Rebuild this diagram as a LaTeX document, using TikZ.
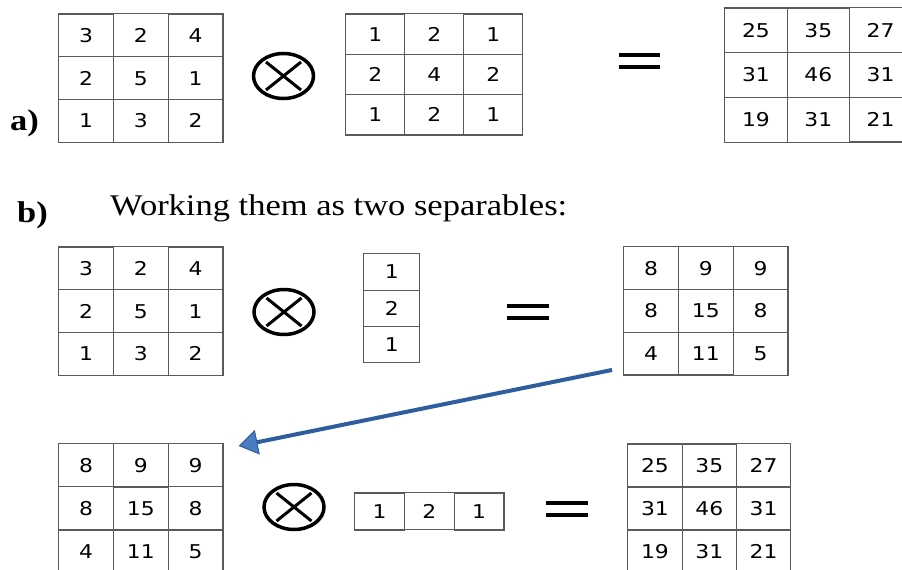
\documentclass[tikz,border=0pt]{standalone}
\usepackage{fontspec}
\setmainfont{Liberation Serif}[FakeStretch=1.15]
\newfontfamily\cellfont{DejaVu Sans}[FakeStretch=1.15]
\usetikzlibrary{arrows.meta,matrix,shapes.geometric,calc}
\definecolor{gridline}{HTML}{5A5A5A}
\definecolor{arrowline}{HTML}{2F5E9E}
\definecolor{arrowfill}{HTML}{4A7CC0}

\begin{document}
\begin{tikzpicture}[x=1pt,y=-1pt,
  grid/.style={matrix of nodes, anchor=north west, inner sep=0pt,
    column sep=-1.2pt, row sep=-1.2pt,
    nodes={draw=gridline, line width=1.2pt, inner sep=0pt, outer sep=0pt,
      font=\cellfont\fontsize{19}{19}\selectfont}},
  cellsize/.style 2 args={nodes={minimum width=#1, minimum height=#2}},
  otimes/.style={ellipse, draw, line width=3.5pt, minimum width=60pt, minimum height=45pt, inner sep=0pt},
  eqsign/.style={rectangle, minimum width=41pt, minimum height=12pt, inner sep=0pt},
  eqline/.style={line width=3.5pt},
  crossline/.style={line width=3pt},
  tag/.style={font=\fontsize{30}{30}\selectfont\bfseries, anchor=base west, inner sep=0pt},
  heading/.style={font=\fontsize{30}{30}\selectfont, anchor=base west, inner sep=0pt},
  flowarrow/.style={-{Triangle[length=19pt, width=25pt, fill=arrowfill, line width=1pt]}, line width=4pt, draw=arrowline}
]
\path[use as bounding box, fill=white] (0,0) rectangle (902,570);
\clip (0,0) rectangle (902,570);

% a) full 3x3 kernel
\node[tag] (taga) at (10,130) {a)};
\matrix (tA) [grid, cellsize={54.7pt}{42.7pt}] at (58,13) {
  3 & 2 & 4 \\
  2 & 5 & 1 \\
  1 & 3 & 2 \\
};
\node[otimes] (ot1) at (283.5,76) {};
\matrix (tB) [grid, cellsize={59pt}{40.3pt}] at (345,13) {
  1 & 2 & 1 \\
  2 & 4 & 2 \\
  1 & 2 & 1 \\
};
\node[eqsign] (eqa) at (639.5,61) {};
\matrix (tR) [grid, cellsize={62.3pt}{44.7pt}] at (724,7) {
  25 & 35 & 27 \\
  31 & 46 & 31 \\
  19 & 31 & 21 \\
};

% b) two separable passes
\node[tag] (tagb) at (17,222) {b)};
\node[heading] (head) at (110,215) {Working them as two separables:};
\matrix (mA) [grid, cellsize={54.7pt}{42.7pt}] at (58,246) {
  3 & 2 & 4 \\
  2 & 5 & 1 \\
  1 & 3 & 2 \\
};
\node[otimes] (ot2) at (284,312) {};
\matrix (mV) [grid, cellsize={56pt}{36.3pt}] at (363,253) {
  1 \\
  2 \\
  1 \\
};
\node[eqsign] (eqb) at (528,312) {};
\matrix (mR) [grid, cellsize={54.7pt}{42.7pt}] at (623,246) {
  8 & 9 & 9 \\
  8 & 15 & 8 \\
  4 & 11 & 5 \\
};

\matrix (bA) [grid, cellsize={54.7pt}{43pt}] at (58,443) {
  8 & 9 & 9 \\
  8 & 15 & 8 \\
  4 & 11 & 5 \\
};
\node[otimes] (ot3) at (294,507) {};
\matrix (bH) [grid, cellsize={49.7pt}{37pt}] at (354,492) {
  1 & 2 & 1 \\
};
\node[eqsign] (eqc) at (567,509) {};
\matrix (bR) [grid, cellsize={54.3pt}{43pt}] at (627,443) {
  25 & 35 & 27 \\
  31 & 46 & 31 \\
  19 & 31 & 21 \\
};

\foreach \e in {eqa,eqb,eqc}
  \draw[eqline] (\e.north west) -- (\e.north east) (\e.south west) -- (\e.south east);
\foreach \o in {ot1,ot2,ot3}
  \draw[crossline] ($(\o.center)+(-17.5,-14)$) -- ($(\o.center)+(17.5,14)$)
                   ($(\o.center)+(-17.5,14)$) -- ($(\o.center)+(17.5,-14)$);

\draw[flowarrow] ([xshift=-11pt,yshift=6pt]mR.south west) -- ([xshift=15pt,yshift=-3pt]bA.north east);
\end{tikzpicture}
\end{document}
